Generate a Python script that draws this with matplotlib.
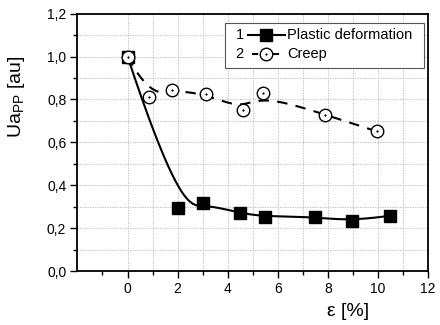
"""
Ua_PP versus strain: plastic deformation and creep
"""
import numpy as np
import matplotlib
matplotlib.use('Agg')
import matplotlib.pyplot as plt
from matplotlib.patches import Rectangle
from matplotlib.lines import Line2D

plt.rcParams['font.family'] = ['Liberation Sans', 'DejaVu Sans']
plt.rcParams['mathtext.fontset'] = 'custom'
plt.rcParams['mathtext.rm'] = 'Liberation Sans'
plt.rcParams['mathtext.it'] = 'Liberation Sans:italic'

# data
plastic_x = [0.0, 2.0, 3.0, 4.47, 5.48, 7.47, 8.98, 10.46]
plastic_y = [1.0, 0.296, 0.316, 0.270, 0.254, 0.254, 0.232, 0.258]

creep_x = [0.0, 0.87, 1.79, 3.15, 4.59, 5.40, 7.87, 9.96]
creep_y = [1.0, 0.813, 0.846, 0.824, 0.752, 0.830, 0.729, 0.651]

legend_labels = ['Plastic deformation', 'Creep']
legend_numbers = ['1', '2']

xticks = [0, 2, 4, 6, 8, 10, 12]
yticks = [0.0, 0.2, 0.4, 0.6, 0.8, 1.0, 1.2]
yticklabels = ['0,0', '0,2', '0,4', '0,6', '0,8', '1,0', '1,2']


def bspline(px, py, k=3, n=400):
    """Clamped uniform B-spline using the data points as control points"""
    px = np.asarray(px, float)
    py = np.asarray(py, float)
    m = len(px)
    inner = np.linspace(0, 1, m - k + 1)
    t = np.concatenate([np.zeros(k), inner, np.ones(k)])
    u = np.linspace(0, 1, n)
    u[-1] -= 1e-9
    B = np.zeros((n, len(t) - 1))
    for i in range(len(t) - 1):
        B[:, i] = (t[i] <= u) & (u < t[i + 1])
    for d in range(1, k + 1):
        Bn = np.zeros((n, len(t) - 1 - d))
        for i in range(len(t) - 1 - d):
            a = t[i + d] - t[i]
            b = t[i + d + 1] - t[i + 1]
            left = (u - t[i]) / a * B[:, i] if a > 0 else 0
            right = (t[i + d + 1] - u) / b * B[:, i + 1] if b > 0 else 0
            Bn[:, i] = left + right
        B = Bn
    return B @ px, B @ py


fig = plt.figure(figsize=(4.4, 3.25), dpi=100)
ax = fig.add_axes([0.176, 0.166, 0.797, 0.792])

# smoothed connecting lines
sx, sy = bspline(plastic_x, plastic_y)
ax.plot(sx, sy, color='black', lw=1.5, zorder=3)
cx, cy = bspline(creep_x, creep_y)
ax.plot(cx, cy, color='black', lw=1.5, ls=(0, (5, 4)), zorder=3)

# markers
ax.plot(plastic_x, plastic_y, ls='none', marker='s', ms=8, mfc='black',
        mec='black', zorder=4)
ax.plot(creep_x, creep_y, ls='none', marker='o', ms=9, mfc='white',
        mec='black', mew=1.0, zorder=5)
ax.plot(creep_x, creep_y, ls='none', marker='o', ms=1.2, mfc='black',
        mec='black', mew=0.3, zorder=6)

ax.set_xlim(-2, 12)
ax.set_ylim(0, 1.2)
ax.set_xticks(xticks)
ax.set_xticklabels([str(v) for v in xticks])
ax.set_yticks(yticks)
ax.set_yticklabels(yticklabels)
ax.set_xticks(np.arange(-1, 12, 2), minor=True)
ax.set_yticks(np.arange(0.1, 1.2, 0.2), minor=True)

ax.tick_params(which='major', direction='out', length=5, width=1.0,
               labelsize=10, pad=3)
ax.tick_params(which='minor', direction='out', length=3, width=1.0)
for sp in ax.spines.values():
    sp.set_linewidth(1.3)

# dotted grid on every 1 / 0.1 step (none at x = -1)
ax.grid(True, which='both', color='#b4b4b4', ls=(0, (1.5, 1.5)), lw=0.6)
ax.set_axisbelow(True)
for tk, pos in zip(ax.xaxis.get_minor_ticks(), ax.get_xticks(minor=True)):
    if pos < 0:
        tk.gridline.set_visible(False)

ax.set_ylabel(r'Ua$_{\mathrm{PP}}$ [au]', fontsize=14)
ax.yaxis.set_label_coords(-0.145, 0.677)
ax.set_xlabel('ε [%]', fontsize=14)
ax.xaxis.set_label_coords(0.772, -0.126)

# Origin style legend with numbered entries
ax.add_patch(Rectangle((0.421, 0.79), 0.568, 0.175, transform=ax.transAxes,
                       facecolor='white', edgecolor='#555555', lw=0.8,
                       zorder=7))
rows = [0.916, 0.843]
for num, lab, yy in zip(legend_numbers, legend_labels, rows):
    ax.text(0.462, yy, num, transform=ax.transAxes, ha='center',
            va='center', fontsize=10.5, zorder=8)
    ax.text(0.598, yy, lab, transform=ax.transAxes, ha='left',
            va='center', fontsize=10.5, zorder=8)
ax.add_line(Line2D([0.486, 0.592], [rows[0]] * 2, transform=ax.transAxes,
                   color='black', lw=1.5, zorder=8))
ax.add_line(Line2D([0.539], [rows[0]], transform=ax.transAxes, ls='none',
                   marker='s', ms=8, mfc='black', mec='black', zorder=9))
ax.add_line(Line2D([0.497, 0.582], [rows[1]] * 2, transform=ax.transAxes,
                   color='black', lw=1.5, ls=(0, (3, 2)), zorder=8))
ax.add_line(Line2D([0.539], [rows[1]], transform=ax.transAxes, ls='none',
                   marker='o', ms=9, mfc='white', mec='black', zorder=9))
ax.add_line(Line2D([0.539], [rows[1]], transform=ax.transAxes, ls='none',
                   marker='o', ms=1.2, mfc='black', mec='black', mew=0.3,
                   zorder=10))

fig.savefig('out.png', dpi=100)
